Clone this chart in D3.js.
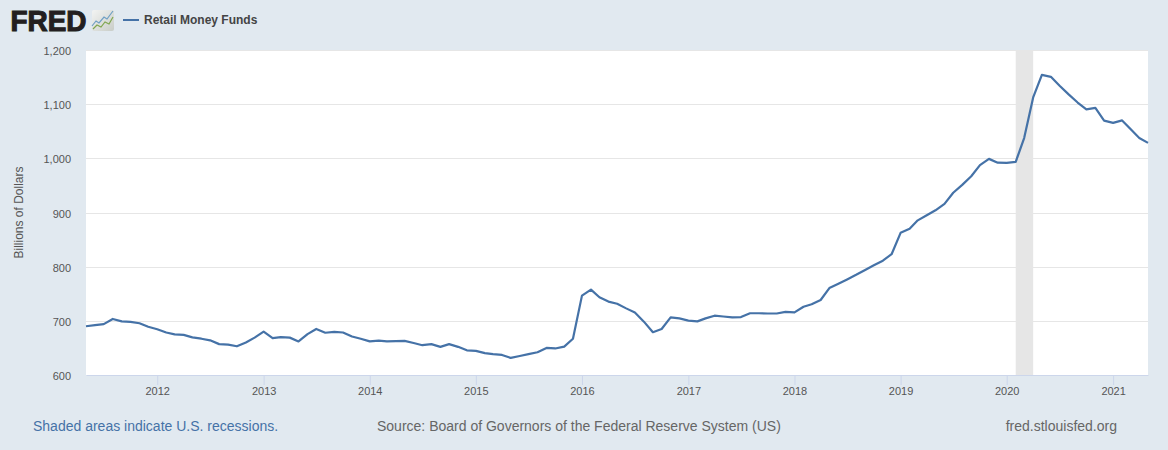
<!DOCTYPE html>
<meta charset="utf-8">
<style>
body { margin: 0; background: #e1e9f0; overflow: hidden; }
svg { display: block; }
text { font-family: "Liberation Sans", Arial, sans-serif; }
</style>
<body>
<svg id="chart" width="1168" height="450"></svg>
<script src="https://cdn.jsdelivr.net/npm/d3@7"></script>
<script>
var startMonth = "2011-05-01";

// monthly, billions of dollars
var values = [
  690, 692, 694, 703.5, 699, 698, 695.5, 689, 684.5, 678.5, 675, 674,
  669.5, 667, 664, 657, 656, 653, 660, 669, 680, 668, 670, 669,
  662, 675.5, 685, 678, 679.5, 678.5, 671, 667, 662, 663.5, 662, 662.5,
  663, 659, 655, 657, 652, 657, 652, 645.5, 644.5, 640.5, 638.5, 637,
  631.5, 635, 638.5, 642, 650, 649, 652.5, 667, 746.5, 757.5, 743.5, 735.5,
  731.5, 723, 715.5, 698.5, 679, 685, 706.5, 704.5, 700.5, 699, 704.5, 709.5,
  708, 706.5, 707, 714, 714, 713.5, 713.5, 716.5, 715.5, 726, 730.5, 738.5,
  760.5, 768.5, 776.5, 785, 794, 802.5, 811, 823, 862.5, 870, 885.5, 895,
  904, 916, 936.5, 951, 967, 987.5, 999, 992, 991.5, 993.5, 1037.5, 1112.5,
  1154, 1150.5, 1134, 1118, 1103, 1090.5, 1093, 1069.5, 1065.5, 1070, 1054.5, 1037.5,
  1028.5
];
var yTicks = [600, 700, 800, 900, 1000, 1100, 1200];
var xTickYears = [2012, 2013, 2014, 2015, 2016, 2017, 2018, 2019, 2020, 2021];
var recession = ["2020-02-01", "2020-04-01"];

var margin = {top: 50, right: 20, bottom: 75, left: 86},
    width = 1168 - margin.left - margin.right,
    height = 450 - margin.top - margin.bottom;

var start = new Date(startMonth + "T00:00:00Z");
var data = values.map(function(v, i) {
  return {date: d3.utcMonth.offset(start, i), value: v};
});

var x = d3.scaleUtc()
    .domain(d3.extent(data, function(d) { return d.date; }))
    .range([0, width]);
var y = d3.scaleLinear().domain([600, 1200]).range([height, 0]);

var svg = d3.select("#chart");
var g = svg.append("g").attr("transform", "translate(" + margin.left + "," + margin.top + ")");

g.append("rect").attr("width", width).attr("height", height).attr("fill", "#fff");

// grid
g.selectAll(".grid").data(yTicks.slice(1)).enter().append("line")
    .attr("x1", 0).attr("x2", width)
    .attr("y1", function(d) { return Math.round(y(d)) + 0.5; })
    .attr("y2", function(d) { return Math.round(y(d)) + 0.5; })
    .attr("stroke", "#e6e6e6");

// recession band
g.append("rect")
    .attr("x", x(new Date(recession[0] + "T00:00:00Z")))
    .attr("width", x(new Date(recession[1] + "T00:00:00Z")) - x(new Date(recession[0] + "T00:00:00Z")))
    .attr("y", 0).attr("height", height)
    .attr("fill", "#e6e6e6");

// x axis
var xAxis = d3.axisBottom(x)
    .tickValues(xTickYears.map(function(yr) { return new Date(Date.UTC(yr, 0, 1)); }))
    .tickFormat(d3.utcFormat("%Y"))
    .tickSize(10).tickSizeOuter(0);
var xg = g.append("g").attr("transform", "translate(0," + height + ")").call(xAxis);
xg.select(".domain").attr("stroke", "#ccd6eb");
xg.selectAll(".tick line").attr("stroke", "#ccd6eb");
xg.selectAll("text").attr("y", 12).attr("dy", "0.71em")
    .attr("fill", "#555").style("font-size", "11px").style("font-family", '"Liberation Sans", Arial, sans-serif');

// y axis
var yAxis = d3.axisLeft(y).tickValues(yTicks).tickFormat(d3.format(",")).tickSize(0);
var yg = g.append("g").call(yAxis);
yg.select(".domain").remove();
yg.selectAll("text").attr("x", -15).attr("y", 1).attr("dy", "0.32em")
    .attr("fill", "#555").style("font-size", "11px").style("font-family", '"Liberation Sans", Arial, sans-serif');

svg.append("text")
    .attr("transform", "translate(23," + (margin.top + height / 2) + ") rotate(-90)")
    .attr("text-anchor", "middle")
    .attr("fill", "#555").style("font-size", "12px")
    .text("Billions of Dollars");

// series
var line = d3.line()
    .x(function(d) { return x(d.date); })
    .y(function(d) { return y(d.value); });
g.append("path").datum(data)
    .attr("d", line)
    .attr("fill", "none")
    .attr("stroke", "#4572a7")
    .attr("stroke-width", 2.2)
    .attr("stroke-linejoin", "round");

// legend
svg.append("line").attr("x1", 123).attr("x2", 139).attr("y1", 20).attr("y2", 20)
    .attr("stroke", "#4572a7").attr("stroke-width", 2);
svg.append("text").attr("x", 144).attr("y", 24)
    .attr("fill", "#444").style("font-size", "12px").style("font-weight", "bold")
    .text("Retail Money Funds");

// footer
svg.append("text").attr("x", 33).attr("y", 431)
    .attr("fill", "#4572a7").style("font-size", "14px")
    .text("Shaded areas indicate U.S. recessions.");
svg.append("text").attr("x", 377).attr("y", 431)
    .attr("fill", "#666").style("font-size", "14px")
    .text("Source: Board of Governors of the Federal Reserve System (US)");
svg.append("text").attr("x", 1117).attr("y", 431).attr("text-anchor", "end")
    .attr("fill", "#666").style("font-size", "14px")
    .text("fred.stlouisfed.org");

// FRED logo
svg.append("text").attr("x", 10.5).attr("y", 30.5)
    .attr("fill", "#231f20")
    .style("font-size", "29px").style("font-weight", "bold")
    .style("font-family", '"Liberation Sans", Arial, sans-serif')
    .attr("stroke", "#231f20").attr("stroke-width", 1.1)
    .attr("textLength", 76).attr("lengthAdjust", "spacingAndGlyphs")
    .text("FRED");
var grad = svg.append("defs").append("linearGradient")
    .attr("id", "logoBg").attr("x1", 0).attr("y1", 0).attr("x2", 1).attr("y2", 1);
grad.append("stop").attr("offset", "0%").attr("stop-color", "#f3f4f3");
grad.append("stop").attr("offset", "100%").attr("stop-color", "#c9cdc8");
var logo = svg.append("g").attr("transform", "translate(92,10)");
logo.append("rect").attr("width", 22).attr("height", 21).attr("rx", 2).attr("fill", "url(#logoBg)");
logo.append("path").attr("d", "M0,16L4,11L7,13L12,7L15,9L21,1").attr("fill", "none").attr("stroke", "#6f9fc4").attr("stroke-width", 1.2);
logo.append("path").attr("d", "M1,19L5,15L9,17L13,12L17,14L21,7").attr("fill", "none").attr("stroke", "#7fa650").attr("stroke-width", 1.2);
</script>
</body>
